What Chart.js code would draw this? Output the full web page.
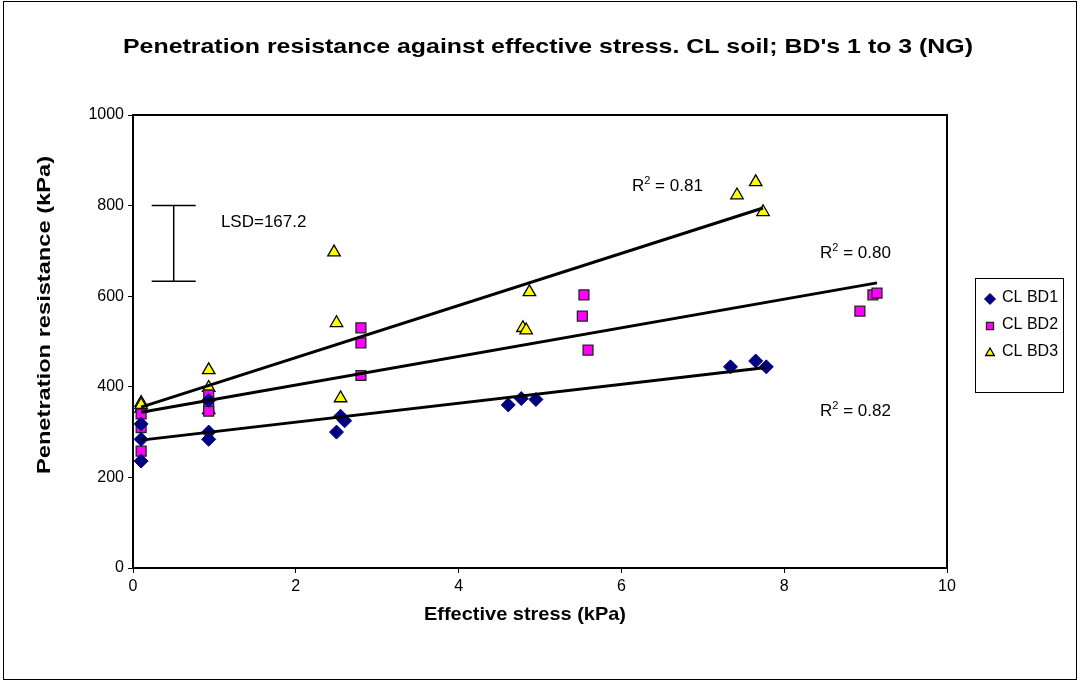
<!DOCTYPE html>
<html>
<head>
<meta charset="utf-8">
<script src="https://cdn.jsdelivr.net/npm/chart.js@4.4.1/dist/chart.umd.min.js"></script>
<style>
html,body{margin:0;padding:0;background:#fff;}
#wrap{width:1082px;height:682px;position:relative;}
</style>
</head>
<body>
<div id="wrap"><canvas id="c" width="1082" height="682"></canvas></div>
<script>
// ---- data ----
const seriesNames = ['CL BD1', 'CL BD2', 'CL BD3'];
const xBD1 = [0.1, 0.1, 0.1, 0.93, 0.93, 0.93, 2.55, 2.6, 2.5, 4.61, 4.77, 4.95, 7.34, 7.65, 7.78];
const yBD1 = [318, 284, 236, 370, 300, 284, 335, 325, 300, 360, 374, 372, 444, 457, 444];
const xBD2 = [0.1, 0.1, 0.1, 0.93, 0.93, 0.93, 2.8, 2.8, 2.8, 5.54, 5.52, 5.59, 8.93, 9.09, 9.14];
const yBD2 = [310, 258, 340, 382, 352, 346, 530, 497, 425, 603, 556, 481, 567, 603, 607];
const xBD3 = [0.1, 0.1, 0.1, 0.93, 0.93, 0.93, 2.47, 2.5, 2.55, 4.87, 4.79, 4.83, 7.42, 7.65, 7.74];
const yBD3 = [365, 352, 360, 437, 398, 349, 697, 541, 375, 609, 530, 525, 823, 852, 786];
const r2Values = ['0.82', '0.80', '0.81'];
const lsdValue = 167.2;
const xTicks = [0, 2, 4, 6, 8, 10];
const yTicks = [0, 200, 400, 600, 800, 1000];

// ---- annotation placement (data coordinates) ----
const r2Pos = [{x: 8.44, y: 349}, {x: 8.44, y: 698}, {x: 6.13, y: 845}];
const lsdPos = {x: 0.5, top: 800, labelX: 1.08, labelY: 763};

function pts(xs, ys) { return xs.map((x, i) => ({x: x, y: ys[i]})); }
function fit(xs, ys) {
  const n = xs.length;
  const mx = xs.reduce((a, b) => a + b, 0) / n;
  const my = ys.reduce((a, b) => a + b, 0) / n;
  let sxy = 0, sxx = 0;
  for (let i = 0; i < n; i++) { sxy += (xs[i] - mx) * (ys[i] - my); sxx += (xs[i] - mx) * (xs[i] - mx); }
  const b = sxy / sxx, a = my - b * mx;
  const x0 = Math.min(...xs), x1 = Math.max(...xs);
  return [{x: x0, y: a + b * x0}, {x: x1, y: a + b * x1}];
}

const FONT = "'Liberation Sans', Arial, sans-serif";
const styles = [
  {pointStyle: 'rectRot', radius: 7, bg: '#000080', border: '#000080', bw: 1},
  {pointStyle: 'rect', radius: 7, bg: '#FF00FF', border: '#222222', bw: 1.3},
  {pointStyle: 'triangle', radius: 7.2, bg: '#FFFF00', border: '#000000', bw: 1.3}
];
const xsAll = [xBD1, xBD2, xBD3], ysAll = [yBD1, yBD2, yBD3];

const datasets = [];
for (let i = 0; i < 3; i++) {
  datasets.push({
    label: seriesNames[i], data: pts(xsAll[i], ysAll[i]),
    pointStyle: styles[i].pointStyle, pointRadius: styles[i].radius,
    pointBackgroundColor: styles[i].bg, pointBorderColor: styles[i].border,
    pointBorderWidth: styles[i].bw, showLine: false, order: 2
  });
}
for (let i = 0; i < 3; i++) {
  datasets.push({
    label: 'trend' + i, data: fit(xsAll[i], ysAll[i]), showLine: true,
    borderColor: '#000', borderWidth: 3, pointRadius: 0, fill: false, order: 1
  });
}

// draw text centred at (cx, cy), stretched horizontally to a target width
function stretchedText(ctx, text, cx, cy, targetW) {
  const w0 = ctx.measureText(text).width;
  const k = targetW / w0;
  ctx.save();
  ctx.translate(cx, cy);
  ctx.scale(k, 1);
  ctx.textAlign = 'center';
  ctx.fillText(text, 0, 0);
  ctx.restore();
}

const decor = {
  id: 'decor',
  afterDraw(chart) {
    const ctx = chart.ctx, ca = chart.chartArea;
    const xs = chart.scales.x, ys = chart.scales.y;
    ctx.save();
    // outer border
    ctx.strokeStyle = '#000'; ctx.lineWidth = 1;
    ctx.strokeRect(3.5, 1.5, 1073, 678);
    // plot frame
    ctx.lineWidth = 2;
    ctx.strokeRect(ca.left, ca.top, ca.right - ca.left, ca.bottom - ca.top);
    // title
    ctx.fillStyle = '#000';
    ctx.font = 'bold 21px ' + FONT;
    ctx.textBaseline = 'middle';
    stretchedText(ctx, "Penetration resistance against effective stress. CL soil; BD's 1 to 3 (NG)", 548, 47, 850);
    // axis titles
    ctx.font = 'bold 19px ' + FONT;
    stretchedText(ctx, 'Effective stress (kPa)', 525, 615, 202);
    ctx.save();
    ctx.translate(45, 315);
    ctx.rotate(-Math.PI / 2);
    stretchedText(ctx, 'Penetration resistance (kPa)', 0, 0, 318);
    ctx.restore();
    // R2 labels
    ctx.textAlign = 'left'; ctx.textBaseline = 'alphabetic';
    for (let i = 0; i < 3; i++) {
      let px = xs.getPixelForValue(r2Pos[i].x), py = ys.getPixelForValue(r2Pos[i].y) + 6;
      ctx.font = '17px ' + FONT;
      ctx.fillText('R', px, py);
      px += ctx.measureText('R').width;
      ctx.font = '11px ' + FONT;
      ctx.fillText('2', px, py - 7);
      px += ctx.measureText('2').width;
      ctx.font = '17px ' + FONT;
      ctx.fillText(' = ' + r2Values[i], px, py);
    }
    // LSD bar
    const lx = xs.getPixelForValue(lsdPos.x);
    const ly0 = ys.getPixelForValue(lsdPos.top), ly1 = ys.getPixelForValue(lsdPos.top - lsdValue);
    ctx.lineWidth = 1.5;
    ctx.beginPath();
    ctx.moveTo(lx, ly0); ctx.lineTo(lx, ly1);
    ctx.moveTo(lx - 22, ly0); ctx.lineTo(lx + 22, ly0);
    ctx.moveTo(lx - 22, ly1); ctx.lineTo(lx + 22, ly1);
    ctx.stroke();
    ctx.font = '17px ' + FONT;
    ctx.textBaseline = 'middle';
    ctx.fillText('LSD=' + lsdValue, xs.getPixelForValue(lsdPos.labelX), ys.getPixelForValue(lsdPos.labelY));
    // legend
    const lgX = 975, lgY = 278, lgW = 88, lgH = 114;
    ctx.lineWidth = 1; ctx.strokeStyle = '#000';
    ctx.strokeRect(lgX + 0.5, lgY + 0.5, lgW, lgH);
    ctx.font = '16px ' + FONT;
    for (let i = 0; i < 3; i++) {
      const cy = 298 + i * 27;
      const st = styles[i];
      const r = i === 0 ? 5.5 : 5;
      ctx.beginPath();
      ctx.fillStyle = st.bg; ctx.strokeStyle = st.border; ctx.lineWidth = st.bw;
      Chart.helpers.drawPoint(ctx, {pointStyle: st.pointStyle, radius: r, borderWidth: st.bw, rotation: 0}, 990, cy + 1);
      ctx.fillStyle = '#000';
      ctx.textAlign = 'left'; ctx.textBaseline = 'middle';
      ctx.fillText(seriesNames[i], 1002, cy);
    }
    ctx.restore();
  }
};

new Chart(document.getElementById('c'), {
  type: 'scatter',
  data: {datasets: datasets},
  options: {
    responsive: false, animation: false,
    layout: {padding: {left: 0, right: 135, top: 115, bottom: 0}},
    plugins: {legend: {display: false}, title: {display: false}, tooltip: {enabled: false}},
    scales: {
      x: {
        type: 'linear', min: 0, max: 10,
        afterBuildTicks(s) { s.ticks = xTicks.map(v => ({value: v})); },
        afterFit(s) { s.height = 114; },
        grid: {display: true, drawOnChartArea: false, drawTicks: true, tickLength: 5, color: '#000', tickColor: '#000'},
        border: {display: true, color: '#000', width: 2},
        ticks: {color: '#000', font: {family: FONT, size: 16}, padding: 4, maxRotation: 0, callback: v => String(v)},
        title: {display: false}
      },
      y: {
        type: 'linear', min: 0, max: 1000,
        afterBuildTicks(s) { s.ticks = yTicks.map(v => ({value: v})); },
        afterFit(s) { s.width = 133; },
        grid: {display: true, drawOnChartArea: false, drawTicks: true, tickLength: 5, color: '#000', tickColor: '#000'},
        border: {display: true, color: '#000', width: 2},
        ticks: {color: '#000', font: {family: FONT, size: 16}, padding: 4, callback: v => String(v)},
        title: {display: false}
      }
    }
  },
  plugins: [decor]
});
</script>
</body>
</html>
